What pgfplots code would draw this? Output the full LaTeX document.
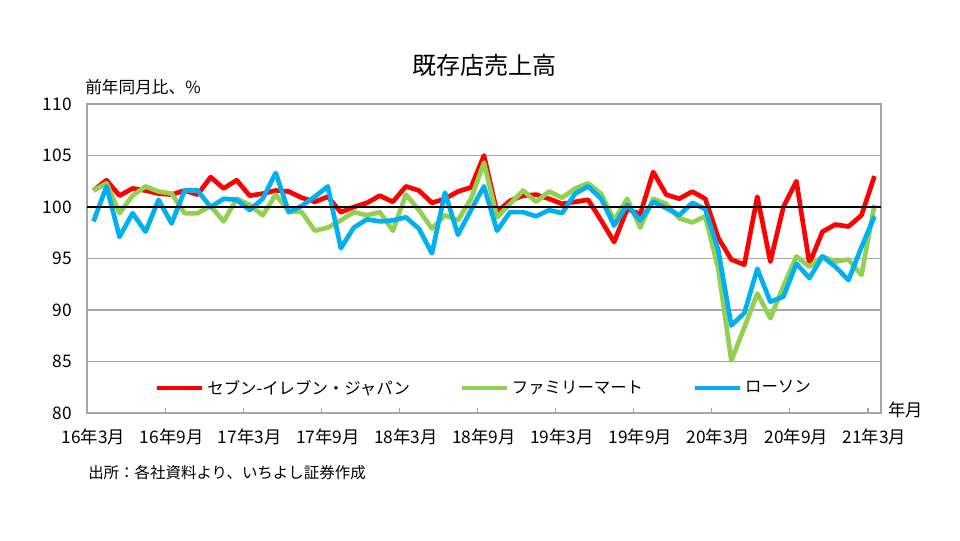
\documentclass[border=0pt]{standalone}
\usepackage{fontspec}
\setmainfont{Noto Sans CJK JP}
\usepackage{pgfplots}
\usepackage{pgfplotstable}
\pgfplotsset{compat=1.18}

\definecolor{sej}{HTML}{FF0000}
\definecolor{fm}{HTML}{92D050}
\definecolor{law}{HTML}{00B0F0}
\definecolor{gridgray}{HTML}{A6A6A6}

% i: months since 2016/3
\pgfplotstableread{
i  seven  fami   lawson
0  101.6  101.6  98.6
1  102.6  102.3  102.0
2  101.1  99.4   97.1
3  101.8  101.1  99.4
4  101.6  102.0  97.6
5  101.3  101.5  100.7
6  101.2  101.3  98.4
7  101.6  99.4   101.6
8  101.2  99.4   101.6
9  102.9  100.1  100.0
10 101.8  98.6   100.8
11 102.6  100.8  100.7
12 101.1  100.2  99.7
13 101.3  99.2   100.8
14 101.6  101.2  103.3
15 101.5  99.6   99.5
16 100.9  99.5   100.1
17 100.5  97.7   101.0
18 101.0  98.0   102.0
19 99.5   98.7   96.0
20 100.0  99.5   98.0
21 100.4  99.2   98.8
22 101.1  99.5   98.6
23 100.5  97.7   98.7
24 102.0  101.2  99.0
25 101.6  99.7   97.9
26 100.4  97.9   95.5
27 100.8  99.2   101.4
28 101.5  98.7   97.3
29 101.9  100.8  99.7
30 105.0  104.3  102.0
31 99.5   99.0   97.7
32 100.6  100.3  99.5
33 101.1  101.6  99.5
34 101.2  100.5  99.1
35 100.8  101.5  99.7
36 100.3  100.9  99.4
37 100.5  101.8  101.3
38 100.7  102.3  102.0
39 98.7   101.3  100.8
40 96.6   98.7   98.2
41 99.8   100.8  100.2
42 99.3   98.0   98.7
43 103.4  100.8  100.5
44 101.2  100.3  99.9
45 100.8  98.9   99.2
46 101.5  98.5   100.4
47 100.8  99.1   99.8
48 97.0   94.0   95.8
49 94.9   85.1   88.5
50 94.4   88.3   89.7
51 101.0  91.6   94.0
52 94.7   89.2   90.8
53 100.0  92.3   91.3
54 102.5  95.2   94.5
55 94.5   94.2   93.1
56 97.6   95.2   95.2
57 98.3   94.7   94.2
58 98.1   94.9   92.9
59 99.2   93.4   96.1
60 103.0  100.2  99.1
}\sales

\begin{document}
\begin{tikzpicture}
\path[use as bounding box] (0,0) rectangle (720pt,405pt);
\begin{axis}[
  at={(65.25pt,95.25pt)}, anchor=south west,
  scale only axis, width=595.5pt, height=231.75pt,
  xmin=-0.5, xmax=60.5, ymin=80, ymax=110,
  xtick={0,6,...,60},
  xticklabels={16年3月,16年9月,17年3月,17年9月,18年3月,18年9月,19年3月,19年9月,20年3月,20年9月,21年3月},
  extra x ticks={5.5,11.5,...,59.5},
  extra x tick labels={},
  extra x tick style={major tick length=4pt, tick style={draw=gridgray, line width=0.8pt}},
  ytick={80,85,...,110},
  tick align=inside, xtick pos=bottom, ytick pos=left,
  major tick length=0pt,
  ymajorgrids, grid style={draw=gridgray, line width=0.9pt},
  axis line style={draw=gridgray, line width=0.9pt},
  tick label style={font=\fontsize{13}{15}\selectfont, text=black},
  xticklabel style={yshift=-8pt},
  yticklabel style={xshift=-8pt},
  /pgf/number format/assume math mode=true,
  legend columns=3,
  legend style={draw=none, fill=none, at={(0.085,0.081)}, anchor=west,
    font=\fontsize{12.3}{15}\selectfont, inner sep=0pt,
    /tikz/every even column/.append style={column sep=35pt}},
  legend image code/.code={\draw[#1, line width=3.5pt] (0pt,0pt) -- (34pt,0pt);},
  every axis plot/.append style={line width=3.5pt, line join=round},
]
\addplot[sej] table[x=i, y=seven] {\sales};
\addlegendentry{セブン-イレブン・ジャパン}
\addplot[fm] table[x=i, y=fami] {\sales};
\addlegendentry{ファミリーマート}
\addplot[law] table[x=i, y=lawson] {\sales};
\addlegendentry{ローソン}
\addplot[black, line width=2pt, forget plot] coordinates {(-0.5,100) (60.5,100)};
\end{axis}
\node[font=\fontsize{18}{21}\selectfont] at (363pt,356.25pt) {既存店売上高};
\node[anchor=west, inner sep=0pt, font=\fontsize{12.5}{15}\selectfont] at (63.75pt,339.75pt) {前年同月比、\%};
\node[anchor=west, inner sep=0pt, font=\fontsize{13}{15}\selectfont] at (666pt,97.5pt) {年月};
\node[anchor=west, inner sep=0pt, font=\fontsize{11.6}{14}\selectfont] at (66pt,50.25pt) {出所：各社資料より、いちよし証券作成};
\end{tikzpicture}
\end{document}
